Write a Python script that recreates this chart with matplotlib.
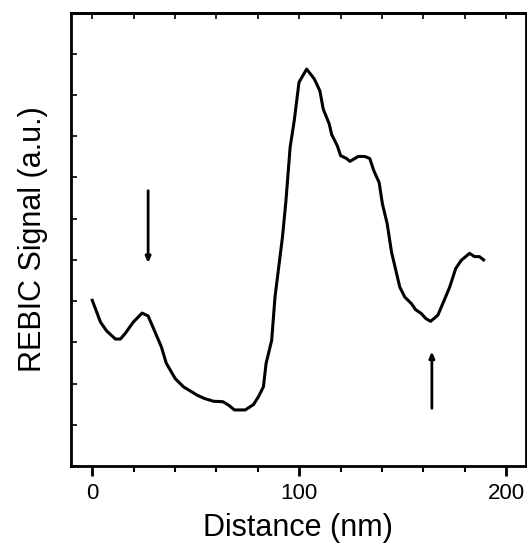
import matplotlib
matplotlib.use("Agg")
import matplotlib.pyplot as plt
from matplotlib.ticker import MultipleLocator, NullFormatter

plt.rcParams['font.family'] = ['Liberation Sans', 'DejaVu Sans']

# REBIC line profile across the sample
distance = [0.0, 4.0, 6.9, 11.2, 13.6, 16.0, 19.8, 24.1, 27.0, 30.0,
            33.4, 35.8, 40.1, 44.1, 47.4, 50.6, 54.1, 58.6, 63.1, 65.8,
            68.7, 73.9, 77.9, 80.3, 82.7, 84.0, 86.7, 88.3, 91.9, 93.6,
            95.6, 97.6, 99.9, 103.6, 107.3, 110.0, 111.6, 114.5, 115.7, 118.4,
            120.0, 122.9, 124.5, 128.5, 131.7, 134.1, 136.0, 138.6, 140.2, 142.5,
            144.6, 148.6, 151.0, 154.2, 156.3, 159.0, 161.1, 163.5, 167.0, 168.7,
            172.7, 175.6, 178.3, 182.3, 184.7, 187.1, 189.1]
signal = [4.02, 3.49, 3.28, 3.08, 3.08, 3.22, 3.49, 3.71, 3.64, 3.29,
          2.89, 2.49, 2.12, 1.92, 1.82, 1.72, 1.64, 1.57, 1.56, 1.48,
          1.36, 1.36, 1.49, 1.68, 1.92, 2.49, 3.05, 4.10, 5.55, 6.44,
          7.73, 8.38, 9.31, 9.63, 9.39, 9.10, 8.66, 8.30, 8.04, 7.77,
          7.53, 7.46, 7.39, 7.51, 7.51, 7.46, 7.17, 6.88, 6.36, 5.88,
          5.19, 4.34, 4.10, 3.94, 3.79, 3.70, 3.58, 3.51, 3.66, 3.86,
          4.34, 4.79, 4.99, 5.16, 5.08, 5.08, 5.00]

# marker arrows: (x, tail y, head y)
arrow_x = [27.0, 164.1]
arrow_tail = [6.68, 1.40]
arrow_head = [4.92, 2.78]

x_ticks = [0, 100, 200]
x_tick_labels = ["0", "100", "200"]

fig = plt.figure(figsize=(5.27, 5.49), dpi=100)
ax = fig.add_axes([0.1338, 0.1512, 0.864, 0.8258])

ax.plot(distance, signal, color='black', lw=2.2, solid_joinstyle='round')

for x, y0, y1 in zip(arrow_x, arrow_tail, arrow_head):
    ax.annotate('', xy=(x, y1), xytext=(x, y0),
                arrowprops=dict(arrowstyle='-|>,head_length=0.35,head_width=0.15',
                                color='black', lw=2.0, shrinkA=0, shrinkB=0))

ax.set_xlim(-10.5, 209.5)
ax.set_ylim(0, 11)

ax.set_xticks(x_ticks)
ax.set_xticklabels(x_tick_labels)
ax.xaxis.set_minor_locator(MultipleLocator(20))
ax.yaxis.set_major_locator(MultipleLocator(1))
ax.yaxis.set_major_formatter(NullFormatter())

ax.tick_params(axis='x', which='major', direction='out', length=7, width=2,
               labelsize=16, pad=5, top=False)
ax.tick_params(axis='x', which='minor', direction='out', length=4, width=1.5, top=False)
ax.tick_params(axis='y', which='major', direction='in', length=4, width=1.2,
               left=True, right=False)

# small inward ticks along the top edge
top = ax.secondary_xaxis('top')
top.set_xticks(list(range(0, 201, 20)))
top.tick_params(direction='in', length=4, width=1.2, labeltop=False)
top.xaxis.set_major_formatter(NullFormatter())
top.spines['top'].set_linewidth(2)

for s in ax.spines.values():
    s.set_linewidth(2)

ax.set_xlabel('Distance (nm)', fontsize=22, labelpad=7)
ax.set_ylabel('REBIC Signal (a.u.)', fontsize=22, labelpad=13)

fig.savefig('out.png', dpi=100)
